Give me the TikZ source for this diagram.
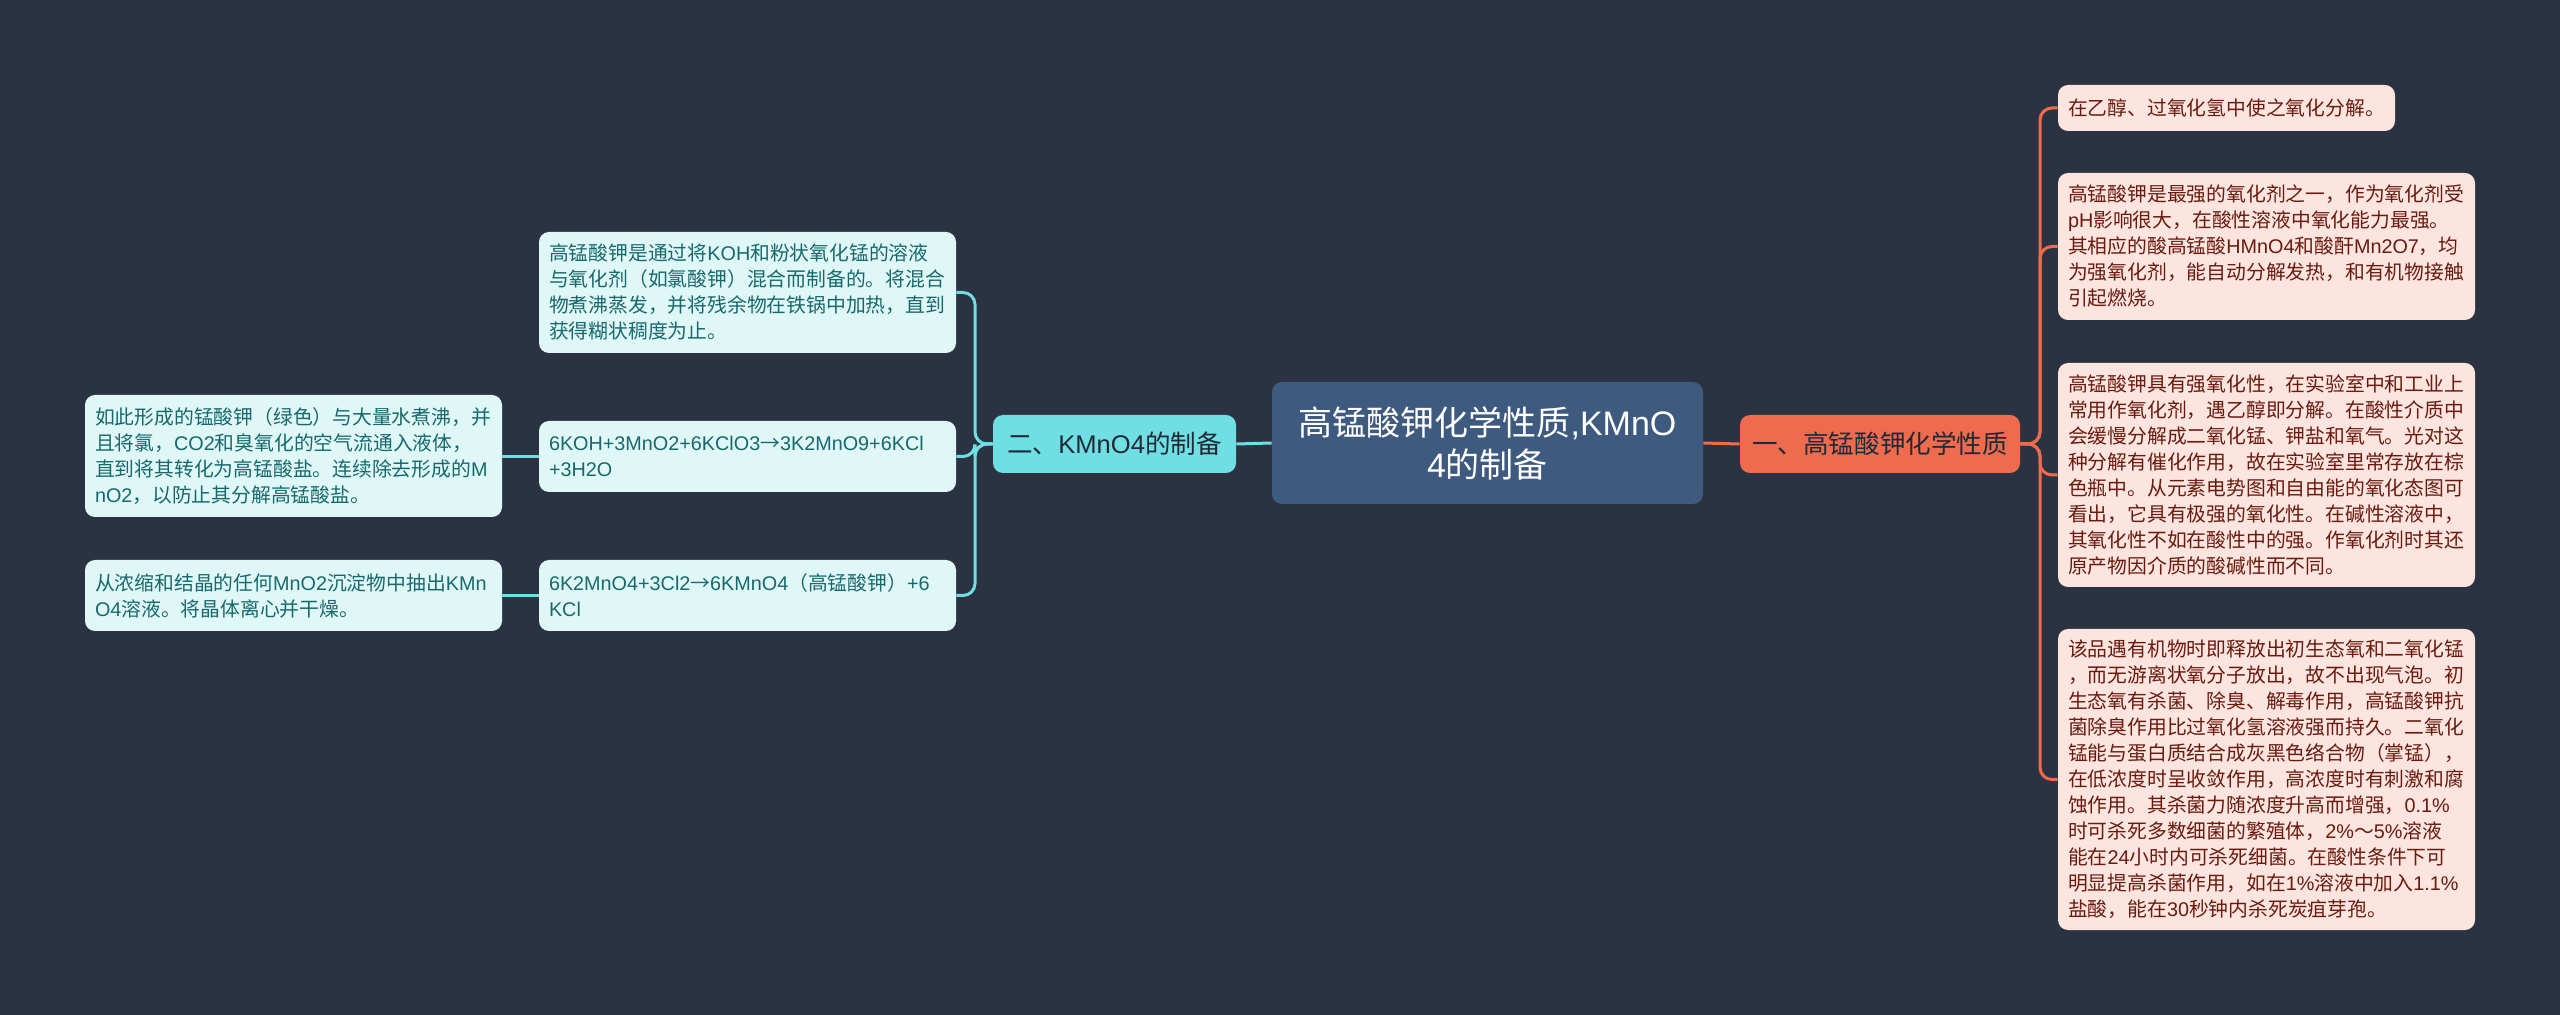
\documentclass[tikz,border=0pt]{standalone}
\usepackage{fontspec}
\setmainfont{Noto Sans CJK SC}
\newfontfamily\latf{Liberation Sans}
\newcommand\lat[1]{{\latf #1}}
\definecolor{bg}{HTML}{2B3242}
\definecolor{centerfill}{HTML}{3E5A7F}
\definecolor{cyanfill}{HTML}{70DFE3}
\definecolor{orangefill}{HTML}{EE6C4D}
\definecolor{lightcyan}{HTML}{E0F7F8}
\definecolor{lightpink}{HTML}{FCE4DF}
\definecolor{tealtext}{HTML}{17696B}
\definecolor{redtext}{HTML}{6A1B10}
\definecolor{darktext}{HTML}{1E2A38}
\tikzset{
  basebox/.style={rounded corners=5pt, inner xsep=5pt, inner ysep=0pt, align=left, font=\fontsize{9.9pt}{13pt}\selectfont},
  lbox/.style={basebox, fill=lightcyan, text=tealtext},
  rbox/.style={basebox, fill=lightpink, text=redtext},
  cline/.style={draw=cyanfill, line width=1.5pt, rounded corners=6pt},
  oline/.style={draw=orangefill, line width=1.5pt, rounded corners=6pt},
}
\begin{document}
\begin{tikzpicture}[x=0.5pt,y=-0.5pt]
\fill[bg] (0,0) rectangle (2560,1015);
\useasboundingbox (0,0) rectangle (2560,1015);

% center
\node[rounded corners=5pt, fill=centerfill, text=white, align=center, minimum width=215.5pt, minimum height=61pt, inner sep=0pt, font=\fontsize{17pt}{21pt}\selectfont] (center) at (1487.5,443) {高锰酸钾化学性质\lat{,KMnO}\\\lat{4}的制备};

% level 1
\node[rounded corners=5pt, fill=cyanfill, text=darktext, align=center, minimum width=121.5pt, minimum height=29pt, inner sep=0pt, font=\fontsize{12.8pt}{15pt}\selectfont] (cyan) at (1114.5,444) {二、\lat{KMnO4}的制备};
\node[rounded corners=5pt, fill=orangefill, text=darktext, align=center, minimum width=140pt, minimum height=29pt, inner sep=0pt, font=\fontsize{12.8pt}{15pt}\selectfont] (orange) at (1880,444) {一、高锰酸钾化学性质};

% left level 2
\node[lbox, minimum width=208.5pt, minimum height=60.5pt, text width=198.5pt] (A) at (747.5,292.5) {高锰酸钾是通过将\lat{KOH}和粉状氧化锰的溶液\\与氧化剂（如氯酸钾）混合而制备的。将混合\\物煮沸蒸发，并将残余物在铁锅中加热，直到\\获得糊状稠度为止。};
\node[lbox, minimum width=208.5pt, minimum height=35.5pt, text width=198.5pt] (B) at (747.5,456.5) {\lat{6KOH+3MnO2+6KClO3}→\lat{3K2MnO9+6KCl}\\\lat{+3H2O}};
\node[lbox, minimum width=208.5pt, minimum height=35.5pt, text width=198.5pt] (C) at (747.5,595.5) {\lat{6K2MnO4+3Cl2}→\lat{6KMnO4}（高锰酸钾）\lat{+6}\\\lat{KCl}};

% left level 3
\node[lbox, minimum width=208.5pt, minimum height=61pt, text width=198.5pt] (D) at (293.5,456) {如此形成的锰酸钾（绿色）与大量水煮沸，并\\且将氯，\lat{CO2}和臭氧化的空气流通入液体，\\直到将其转化为高锰酸盐。连续除去形成的\lat{M}\\\lat{nO2}，以防止其分解高锰酸盐。};
\node[lbox, minimum width=208.5pt, minimum height=35.5pt, text width=198.5pt] (E) at (293.5,595.5) {从浓缩和结晶的任何\lat{MnO2}沉淀物中抽出\lat{KMn}\\\lat{O4}溶液。将晶体离心并干燥。};

% right level 2
\node[rbox, minimum width=168.5pt, minimum height=23pt, text width=158.5pt] (F) at (2226.5,108) {在乙醇、过氧化氢中使之氧化分解。};
\node[rbox, minimum width=208.5pt, minimum height=73.5pt, text width=198.5pt] (G) at (2266.5,246.5) {高锰酸钾是最强的氧化剂之一，作为氧化剂受\\\lat{pH}影响很大，在酸性溶液中氧化能力最强。\\其相应的酸高锰酸\lat{HMnO4}和酸酐\lat{Mn2O7}，均\\为强氧化剂，能自动分解发热，和有机物接触\\引起燃烧。};
\node[rbox, minimum width=208.5pt, minimum height=112pt, text width=198.5pt] (H) at (2266.5,475) {高锰酸钾具有强氧化性，在实验室中和工业上\\常用作氧化剂，遇乙醇即分解。在酸性介质中\\会缓慢分解成二氧化锰、钾盐和氧气。光对这\\种分解有催化作用，故在实验室里常存放在棕\\色瓶中。从元素电势图和自由能的氧化态图可\\看出，它具有极强的氧化性。在碱性溶液中，\\其氧化性不如在酸性中的强。作氧化剂时其还\\原产物因介质的酸碱性而不同。};
\node[rbox, minimum width=208.5pt, minimum height=150.5pt, text width=198.5pt] (I) at (2266.5,779.5) {该品遇有机物时即释放出初生态氧和二氧化锰\\，而无游离状氧分子放出，故不出现气泡。初\\生态氧有杀菌、除臭、解毒作用，高锰酸钾抗\\菌除臭作用比过氧化氢溶液强而持久。二氧化\\锰能与蛋白质结合成灰黑色络合物（掌锰），\\在低浓度时呈收敛作用，高浓度时有刺激和腐\\蚀作用。其杀菌力随浓度升高而增强，\lat{0.1\%}\\时可杀死多数细菌的繁殖体，\lat{2\%}～\lat{5\%}溶液\\能在\lat{24}小时内可杀死细菌。在酸性条件下可\\明显提高杀菌作用，如在\lat{1\%}溶液中加入\lat{1.1\%}\\盐酸，能在\lat{30}秒钟内杀死炭疽芽孢。};

% trunks
\coordinate (lt) at (975,444);
\coordinate (rt) at (2040,444);

% connectors
\draw[cline] (center.west) -- (cyan.east);
\draw[oline] (center.east) -- (orange.west);
\draw[cline] (cyan.west) -- (lt) |- (A.east);
\draw[cline] (cyan.west) -- (lt) |- (B.east);
\draw[cline] (cyan.west) -- (lt) |- (C.east);
\draw[cline] (B.west) -- (D.east |- B.west);
\draw[cline] (C.west) -- (E.east |- C.west);
\draw[oline] (orange.east) -- (rt) |- (F.west);
\draw[oline] (orange.east) -- (rt) |- (G.west);
\draw[oline] (orange.east) -- (rt) |- (H.west);
\draw[oline] (orange.east) -- (rt) |- (I.west);
\end{tikzpicture}
\end{document}
